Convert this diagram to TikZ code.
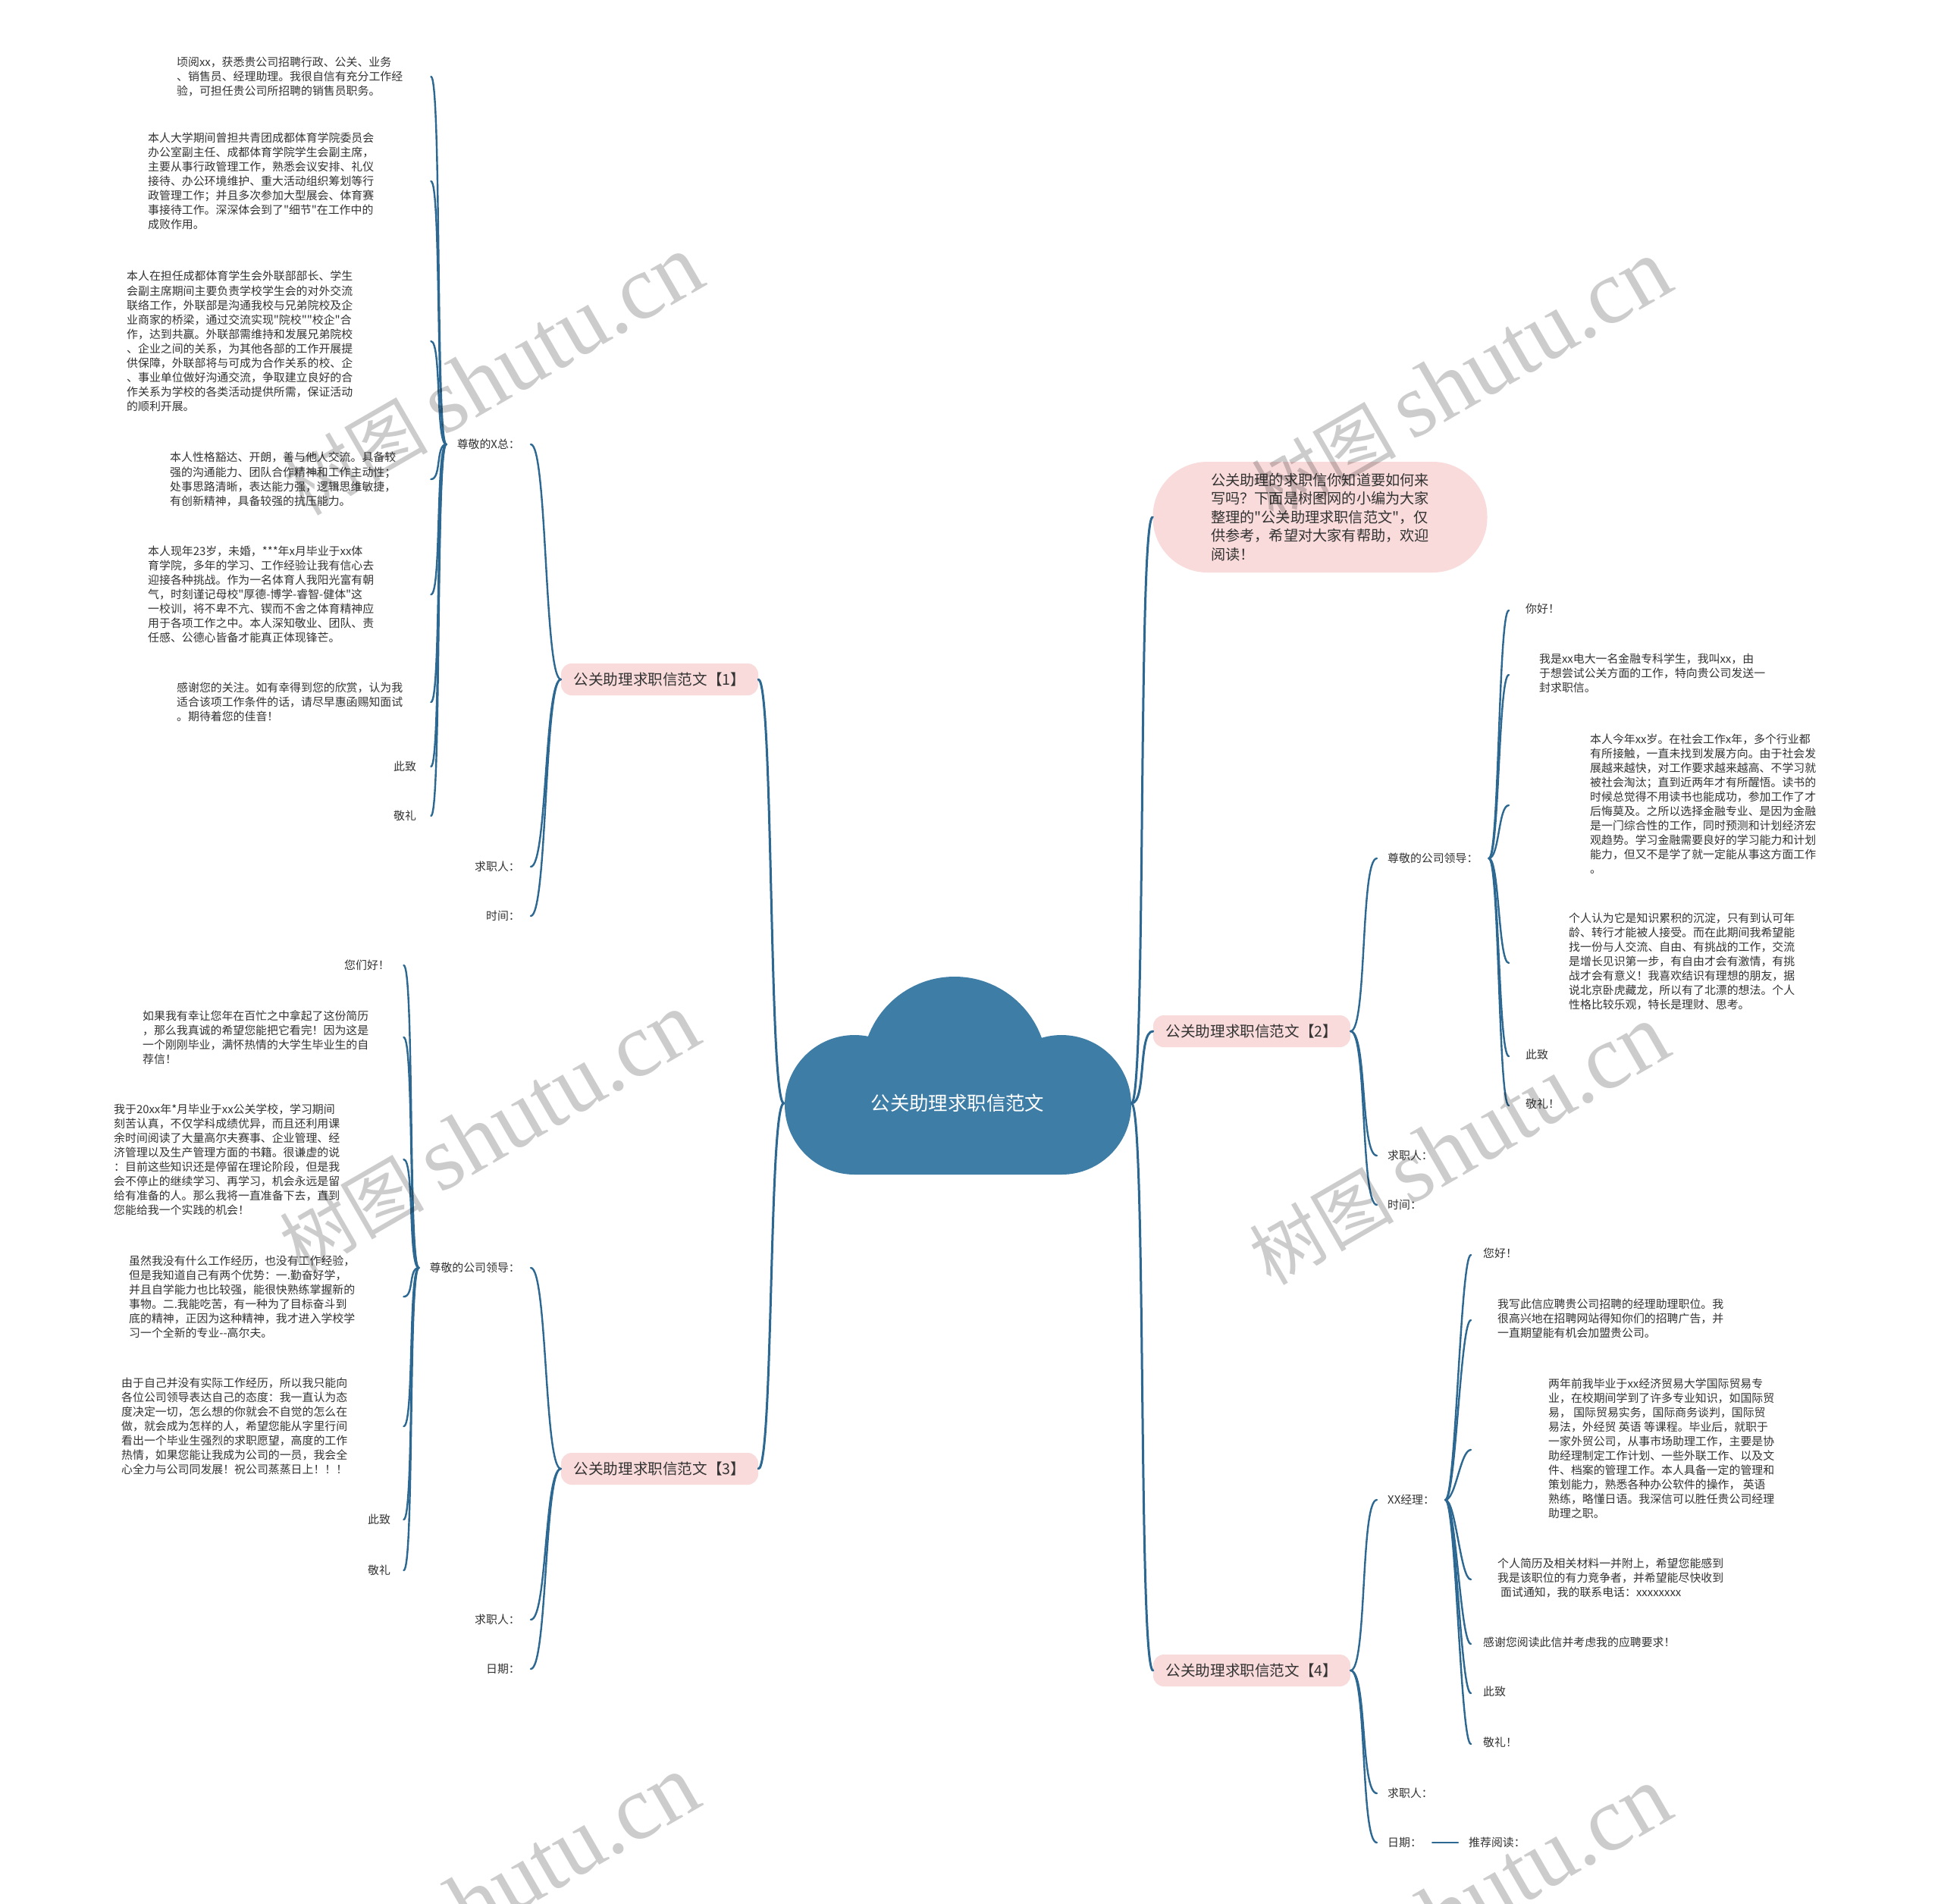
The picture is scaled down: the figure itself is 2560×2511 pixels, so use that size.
\documentclass[tikz,border=0pt]{standalone}
\usepackage{fontspec}
\setmainfont{Noto Sans CJK SC}
\newfontfamily\cjk{Noto Sans CJK SC}
\newfontfamily\wmlatin{Liberation Serif}
\definecolor{cloudc}{RGB}{61,125,166}
\definecolor{linkc}{RGB}{44,104,145}
\definecolor{pinkc}{RGB}{250,219,219}
\definecolor{txtc}{RGB}{51,51,51}
\newcommand\leaffont{\cjk\fontsize{14.9}{19.05}\selectfont}
\newcommand\tabl[1]{\begin{tabular}{@{}l@{}}#1\end{tabular}}

\begin{document}
\begin{tikzpicture}[x=1pt,y=-1pt,
  branch/.style={fill=pinkc, rounded corners=14pt, minimum width=260pt, minimum height=42pt,
    inner sep=0pt, text=txtc, font=\cjk\fontsize{19.6}{24}\selectfont},
  lab/.style={font=\leaffont, text=txtc, inner xsep=14pt, inner ysep=2pt},
  lleaf/.style={font=\leaffont, text=txtc, inner sep=0pt, align=left, anchor=west},
  rleaf/.style={font=\leaffont, text=txtc, inner sep=0pt, anchor=west},
  link/.style={draw=linkc, line width=2.4pt, line cap=round},
  trunk/.style={draw=linkc, line width=3pt, line cap=round},
  wm/.style={rotate=30, text=black, text opacity=0.2, inner sep=0pt}]

\fill[white] (0,0) rectangle (2560,2511);
\useasboundingbox (0,0) rectangle (2560,2511);

% cloud
\fill[cloudc] (1259,1410) circle[radius=122pt] (1127,1457) circle[radius=92pt]
  (1400,1457) circle[radius=92pt] (1127,1400) rectangle (1400,1549);
\node[text=white, font=\cjk\fontsize{25.4}{30}\selectfont, minimum width=458pt,
  minimum height=100pt, inner sep=0pt] (root) at (1263,1455) {公关助理求职信范文};

% main branches
\node[fill=pinkc, rounded corners=72pt, minimum width=441pt, minimum height=146pt,
  align=left, text=txtc, font=\cjk\fontsize{19.2}{24.5}\selectfont] (intro) at (1741,682)
  {公关助理的求职信你知道要如何来\\写吗？下面是树图网的小编为大家\\整理的"公关助理求职信范文"，仅\\供参考，希望对大家有帮助，欢迎\\阅读！};
\node[branch] (b1) at (870,896) {公关助理求职信范文【1】};
\node[branch] (b3) at (870,1937) {公关助理求职信范文【3】};
\node[branch] (b2) at (1651,1360) {公关助理求职信范文【2】};
\node[branch] (b4) at (1651,2203) {公关助理求职信范文【4】};

\draw[trunk] (root.west) to[out=180,in=0,distance=20pt] (b1.east);
\draw[trunk] (root.west) to[out=180,in=0,distance=20pt] (b3.east);
\draw[trunk] (root.east) to[out=0,in=180,distance=20pt] (intro.west);
\draw[trunk] (root.east) to[out=0,in=180,distance=20pt] (b2.west);
\draw[trunk] (root.east) to[out=0,in=180,distance=20pt] (b4.west);

% second level
\node[lab, anchor=east] (xz) at (700,586) {尊敬的X总：};
\node[lab, anchor=east] (q1) at (700,1143) {求职人：};
\node[lab, anchor=east] (t1) at (700,1208) {时间：};
\node[lab, anchor=east] (z3) at (700,1672) {尊敬的公司领导：};
\node[lab, anchor=east] (q3) at (700,2136) {求职人：};
\node[lab, anchor=east] (d3) at (700,2201) {日期：};
\node[lab, anchor=west] (z2) at (1816,1132) {尊敬的公司领导：};
\node[lab, anchor=west] (q2) at (1816,1524) {求职人：};
\node[lab, anchor=west] (t2) at (1816,1589) {时间：};
\node[lab, anchor=west] (x4) at (1816,1978) {XX经理：};
\node[lab, anchor=west] (q4) at (1816,2365) {求职人：};
\node[lab, anchor=west] (d4) at (1816,2430) {日期：};
\node[lab, anchor=west] (tj) at (1923,2430) {推荐阅读：};

\foreach \n in {xz,q1,t1}
  \draw[link] (b1.west) to[out=180,in=0,distance=22pt] (\n.east);
\foreach \n in {z3,q3,d3}
  \draw[link] (b3.west) to[out=180,in=0,distance=22pt] (\n.east);
\foreach \n in {z2,q2,t2}
  \draw[link] (b2.east) to[out=0,in=180,distance=22pt] (\n.west);
\foreach \n in {x4,q4,d4}
  \draw[link] (b4.east) to[out=0,in=180,distance=22pt] (\n.west);
\draw[link] (d4.east) -- (tj.west);

% letter 1
\node[lleaf, text width=335pt] (m1a) at (233,101)
  {顷阅xx，获悉贵公司招聘行政、公关、业务\\、销售员、经理助理。我很自信有充分工作经\\验，可担任贵公司所招聘的销售员职务。};
\node[lleaf, text width=373pt] (m1b) at (195,239)
  {本人大学期间曾担共青团成都体育学院委员会\\办公室副主任、成都体育学院学生会副主席，\\主要从事行政管理工作，熟悉会议安排、礼仪\\接待、办公环境维护、重大活动组织筹划等行\\政管理工作；并且多次参加大型展会、体育赛\\事接待工作。深深体会到了"细节"在工作中的\\成败作用。};
\node[lleaf, text width=401pt] (m1c) at (167,450)
  {本人在担任成都体育学生会外联部部长、学生\\会副主席期间主要负责学校学生会的对外交流\\联络工作，外联部是沟通我校与兄弟院校及企\\业商家的桥梁，通过交流实现"院校""校企"合\\作，达到共赢。外联部需维持和发展兄弟院校\\、企业之间的关系，为其他各部的工作开展提\\供保障，外联部将与可成为合作关系的校、企\\、事业单位做好沟通交流，争取建立良好的合\\作关系为学校的各类活动提供所需，保证活动\\的顺利开展。};
\node[lleaf, text width=344pt] (m1d) at (224,632)
  {本人性格豁达、开朗，善与他人交流。具备较\\强的沟通能力、团队合作精神和工作主动性；\\处事思路清晰，表达能力强，逻辑思维敏捷，\\有创新精神，具备较强的抗压能力。};
\node[lleaf, text width=373pt] (m1e) at (195,784)
  {本人现年23岁，未婚，***年x月毕业于xx体\\育学院，多年的学习、工作经验让我有信心去\\迎接各种挑战。作为一名体育人我阳光富有朝\\气，时刻谨记母校"厚德-博学-睿智-健体"这\\一校训，将不卑不亢、锲而不舍之体育精神应\\用于各项工作之中。本人深知敬业、团队、责\\任感、公德心皆备才能真正体现锋芒。};
\node[lleaf, text width=335pt] (m1f) at (233,926)
  {感谢您的关注。如有幸得到您的欣赏，认为我\\适合该项工作条件的话，请尽早惠函赐知面试\\。期待着您的佳音！};
\node[lleaf, text width=49pt] (m1g) at (519,1011) {此致};
\node[lleaf, text width=49pt] (m1h) at (519,1076) {敬礼};
\foreach \n in {m1a,m1b,m1c,m1d,m1e,m1f,m1g,m1h}
  \draw[link] (xz.west) to[out=180,in=0,distance=14pt] (\n.east);

% letter 3
\node[lleaf, text width=78pt] (m3a) at (454,1273) {您们好！};
\node[lleaf, text width=344pt] (m3b) at (188,1368)
  {如果我有幸让您年在百忙之中拿起了这份简历\\，那么我真诚的希望您能把它看完！因为这是\\一个刚刚毕业，满怀热情的大学生毕业生的自\\荐信！};
\node[lleaf, text width=382pt] (m3c) at (150,1529)
  {我于20xx年*月毕业于xx公关学校，学习期间\\刻苦认真，不仅学科成绩优异，而且还利用课\\余时间阅读了大量高尔夫赛事、企业管理、经\\济管理以及生产管理方面的书籍。很谦虚的说\\：目前这些知识还是停留在理论阶段，但是我\\会不停止的继续学习、再学习，机会永远是留\\给有准备的人。那么我将一直准备下去，直到\\您能给我一个实践的机会！};
\node[lleaf, text width=362pt] (m3d) at (170,1710)
  {虽然我没有什么工作经历，也没有工作经验，\\但是我知道自己有两个优势：一.勤奋好学，\\并且自学能力也比较强，能很快熟练掌握新的\\事物。二.我能吃苦，有一种为了目标奋斗到\\底的精神，正因为这种精神，我才进入学校学\\习一个全新的专业--高尔夫。};
\node[lleaf, text width=372pt] (m3e) at (160,1881)
  {由于自己并没有实际工作经历，所以我只能向\\各位公司领导表达自己的态度：我一直认为态\\度决定一切，怎么想的你就会不自觉的怎么在\\做，就会成为怎样的人，希望您能从字里行间\\看出一个毕业生强烈的求职愿望，高度的工作\\热情，如果您能让我成为公司的一员，我会全\\心全力与公司同发展！祝公司蒸蒸日上！！！};
\node[lleaf, text width=47pt] (m3f) at (485,2004) {此致};
\node[lleaf, text width=47pt] (m3g) at (485,2071) {敬礼};
\foreach \n in {m3a,m3b,m3c,m3d,m3e,m3f,m3g}
  \draw[link] (z3.west) to[out=180,in=0,distance=14pt] (\n.east);

% letter 2
\node[rleaf] (n2a) at (1990,805) {\hspace*{22pt}\tabl{你好！}};
\node[rleaf] (n2b) at (1990,890) {\hspace*{40pt}\tabl{我是xx电大一名金融专科学生，我叫xx，由\\于想尝试公关方面的工作，特向贵公司发送一\\封求职信。}};
\node[rleaf] (n2c) at (1990,1062) {\hspace*{107pt}\tabl{本人今年xx岁。在社会工作x年，多个行业都\\有所接触，一直未找到发展方向。由于社会发\\展越来越快，对工作要求越来越高、不学习就\\被社会淘汰；直到近两年才有所醒悟。读书的\\时候总觉得不用读书也能成功，参加工作了才\\后悔莫及。之所以选择金融专业、是因为金融\\是一门综合性的工作，同时预测和计划经济宏\\观趋势。学习金融需要良好的学习能力和计划\\能力，但又不是学了就一定能从事这方面工作\\。}};
\node[rleaf] (n2d) at (1990,1270) {\hspace*{79pt}\tabl{个人认为它是知识累积的沉淀，只有到认可年\\龄、转行才能被人接受。而在此期间我希望能\\找一份与人交流、自由、有挑战的工作，交流\\是增长见识第一步，有自由才会有激情，有挑\\战才会有意义！我喜欢结识有理想的朋友，据\\说北京卧虎藏龙，所以有了北漂的想法。个人\\性格比较乐观，特长是理财、思考。}};
\node[rleaf] (n2e) at (1990,1393) {\hspace*{22pt}\tabl{此致}};
\node[rleaf] (n2f) at (1990,1458) {\hspace*{22pt}\tabl{敬礼！}};
\foreach \n in {n2a,n2b,n2c,n2d,n2e,n2f}
  \draw[link] (z2.east) to[out=0,in=180,distance=14pt] (\n.west);

% letter 4
\node[rleaf] (n4a) at (1940,1655) {\hspace*{16pt}\tabl{您好！}};
\node[rleaf] (n4b) at (1940,1741) {\hspace*{35pt}\tabl{我写此信应聘贵公司招聘的经理助理职位。我\\很高兴地在招聘网站得知你们的招聘广告，并\\一直期望能有机会加盟贵公司。}};
\node[rleaf] (n4c) at (1940,1912) {\hspace*{102pt}\tabl{两年前我毕业于xx经济贸易大学国际贸易专\\业，在校期间学到了许多专业知识，如国际贸\\易， 国际贸易实务，国际商务谈判，国际贸\\易法，外经贸 英语 等课程。毕业后，就职于\\一家外贸公司，从事市场助理工作，主要是协\\助经理制定工作计划、一些外联工作、以及文\\件、档案的管理工作。本人具备一定的管理和\\策划能力，熟悉各种办公软件的操作， 英语\\熟练，略懂日语。我深信可以胜任贵公司经理\\助理之职。}};
\node[rleaf] (n4d) at (1940,2083) {\hspace*{35pt}\tabl{个人简历及相关材料一并附上，希望您能感到\\我是该职位的有力竞争者，并希望能尽快收到\\\hspace*{4pt}面试通知，我的联系电话：xxxxxxxx}};
\node[rleaf] (n4e) at (1940,2168) {\hspace*{16pt}\tabl{感谢您阅读此信并考虑我的应聘要求！}};
\node[rleaf] (n4f) at (1940,2233) {\hspace*{16pt}\tabl{此致}};
\node[rleaf] (n4g) at (1940,2300) {\hspace*{16pt}\tabl{敬礼！}};
\foreach \n in {n4a,n4b,n4c,n4d,n4e,n4f,n4g}
  \draw[link] (x4.east) to[out=0,in=180,distance=14pt] (\n.west);

% watermark
\foreach \wx/\wy [count=\k] in {650/495, 645/1494, 645/2500, 1927/501, 1924/1510, 1927/2515}
  \node[wm] (wm\k) at (\wx,\wy) {\cjk\fontsize{95}{95}\selectfont 树图 {\wmlatin\fontsize{120}{120}\selectfont shutu.cn}};

\end{tikzpicture}
\end{document}
